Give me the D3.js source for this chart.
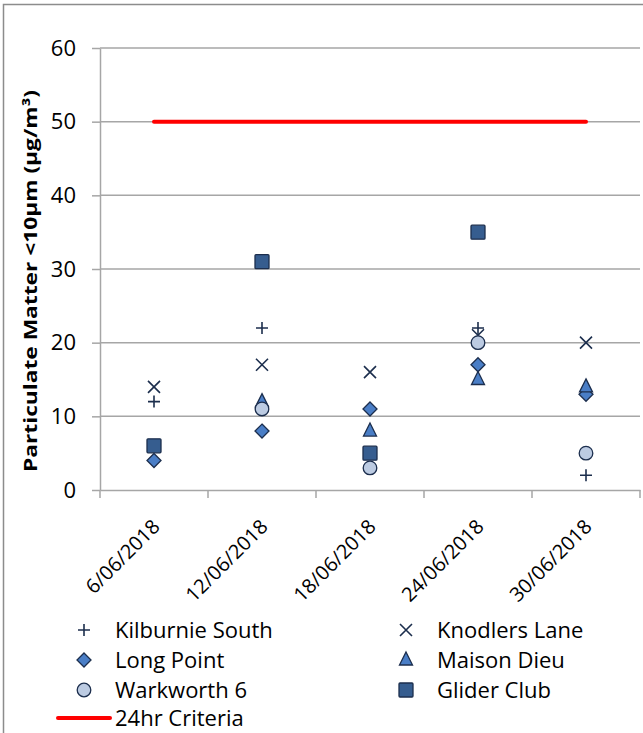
<!DOCTYPE html>
<html><head><meta charset="utf-8">
<script src="https://cdn.jsdelivr.net/npm/d3@7"></script>
<style>body{margin:0;background:#fff}svg{display:block}</style>
</head><body>
<svg id="chart" width="643" height="733"></svg>
<script>
const categories = ["6/06/2018","12/06/2018","18/06/2018","24/06/2018","30/06/2018"];
const kilburnieSouth = [12, 22, null, 22, 2];
const knodlersLane   = [14, 17, 16, 21, 20];
const longPoint      = [4, 8, 11, 17, 13];
const maisonDieu     = [null, 12, 8, 15, 14];
const warkworth6     = [null, 11, 3, 20, 5];
const gliderClub     = [6, 31, 5, 35, null];
const criteria       = [50, 50, 50, 50, 50];
const yTicks = [0,10,20,30,40,50,60];

const series = [
  {name:"Kilburnie South", values:kilburnieSouth, shape:"plus", fill:"none"},
  {name:"Knodlers Lane", values:knodlersLane, shape:"cross", fill:"none"},
  {name:"Long Point", values:longPoint, shape:"diamond", fill:"#4a7ec6"},
  {name:"Maison Dieu", values:maisonDieu, shape:"triangle", fill:"#4a7ec6"},
  {name:"Warkworth 6", values:warkworth6, shape:"circle", fill:"#bccbe2"},
  {name:"Glider Club", values:gliderClub, shape:"square", fill:"#365d8f"}
];
const dark = "#1c2e4d";
const svg = d3.select("#chart");
const font = "'Open Sans', 'Liberation Sans', sans-serif";

// outer border
svg.append("rect").attr("x",3.5).attr("y",4.5).attr("width",700).attr("height",800)
  .attr("fill","none").attr("stroke","#8c8c8c").attr("stroke-width",1.5);

const x = d3.scaleBand().domain(categories).range([100,640]);
const y = d3.scaleLinear().domain([0,60]).range([490,48]);
const cx = d => x(d) + x.bandwidth()/2;

// gridlines
svg.append("g").selectAll("line").data(yTicks.filter(t=>t>0)).join("line")
  .attr("x1",100).attr("x2",640).attr("y1",d=>y(d)).attr("y2",d=>y(d))
  .attr("stroke","#a6a6a6").attr("stroke-width",1.5);

// y axis
const yAxis = svg.append("g").attr("transform","translate(100,0)")
  .call(d3.axisLeft(y).tickValues(yTicks).tickSize(8).tickPadding(16).tickSizeOuter(0));
yAxis.select(".domain").attr("stroke","#a6a6a6").attr("stroke-width",1.5);
yAxis.selectAll(".tick line").attr("stroke","#a6a6a6").attr("stroke-width",1.5);
yAxis.selectAll(".tick text").attr("font-family",font).attr("font-size",22).attr("fill","#000");

// x axis
const xAxis = svg.append("g").attr("transform","translate(0,490)")
  .call(d3.axisBottom(x).tickSize(0).tickSizeOuter(0));
xAxis.select(".domain").attr("stroke","#a6a6a6").attr("stroke-width",1.5);
xAxis.selectAll(".tick line").remove();
// boundary ticks
svg.append("g").selectAll("line").data(d3.range(categories.length+1)).join("line")
  .attr("x1",i=>100+i*x.step()).attr("x2",i=>100+i*x.step())
  .attr("y1",490).attr("y2",498).attr("stroke","#a6a6a6").attr("stroke-width",1.5);
xAxis.selectAll(".tick text")
  .attr("font-family",font).attr("font-size",20).attr("fill","#000")
  .attr("text-anchor","end").attr("dy",0).attr("y",0)
  .attr("transform","translate(7,38) rotate(-45)");

// y title
svg.append("text").attr("transform","translate(37,281) rotate(-90)")
  .attr("text-anchor","middle").attr("font-family",font).attr("font-weight","bold")
  .attr("font-size",18).attr("textLength",382).attr("lengthAdjust","spacingAndGlyphs")
  .text("Particulate Matter <10µm (µg/m³)");

// criteria line
svg.append("path")
  .attr("d", d3.line().x((d,i)=>cx(categories[i])).y(d=>y(d))(criteria))
  .attr("stroke","#ff0000").attr("stroke-width",4).attr("fill","none").attr("stroke-linecap","round");

function drawShape(g, shape, fill){
  if(shape==="plus"){
    g.append("path").attr("d","M-6,0H6M0,-6V6").attr("stroke",dark).attr("stroke-width",1.6).attr("fill","none");
  } else if(shape==="cross"){
    g.append("path").attr("d","M-6,-6L6,6M6,-6L-6,6").attr("stroke",dark).attr("stroke-width",1.6).attr("fill","none");
  } else if(shape==="diamond"){
    g.append("path").attr("d","M0,-7L7,0L0,7L-7,0Z").attr("fill",fill).attr("stroke",dark).attr("stroke-width",1.3);
  } else if(shape==="triangle"){
    g.append("path").attr("d","M0,-8L6.5,5L-6.5,5Z").attr("fill",fill).attr("stroke",dark).attr("stroke-width",1.3);
  } else if(shape==="circle"){
    g.append("circle").attr("r",6.8).attr("fill",fill).attr("stroke",dark).attr("stroke-width",1.3);
  } else if(shape==="square"){
    g.append("rect").attr("x",-7).attr("y",-7).attr("width",14).attr("height",14).attr("rx",1)
      .attr("fill",fill).attr("stroke",dark).attr("stroke-width",1.3);
  }
}

series.forEach(s=>{
  s.values.forEach((v,i)=>{
    if(v==null) return;
    const g = svg.append("g").attr("transform",`translate(${cx(categories[i])},${y(v)})`);
    drawShape(g, s.shape, s.fill);
  });
});

// legend
const legendRows = [630, 660, 690];
series.forEach((s,i)=>{
  const col = i%2, row = Math.floor(i/2);
  const sx = col===0 ? 84 : 406;
  const ly = legendRows[row];
  const g = svg.append("g").attr("transform",`translate(${sx},${ly})`);
  drawShape(g, s.shape, s.fill);
  svg.append("text").attr("x", sx+31).attr("y", ly).attr("dy","0.35em")
    .attr("font-family",font).attr("font-size",22).attr("fill","#000").text(s.name);
});
svg.append("line").attr("x1",58).attr("x2",110).attr("y1",718).attr("y2",718)
  .attr("stroke","#ff0000").attr("stroke-width",4).attr("stroke-linecap","round");
svg.append("text").attr("x",115).attr("y",718).attr("dy","0.35em")
  .attr("font-family",font).attr("font-size",22).attr("fill","#000").text("24hr Criteria");
</script>
</body></html>
